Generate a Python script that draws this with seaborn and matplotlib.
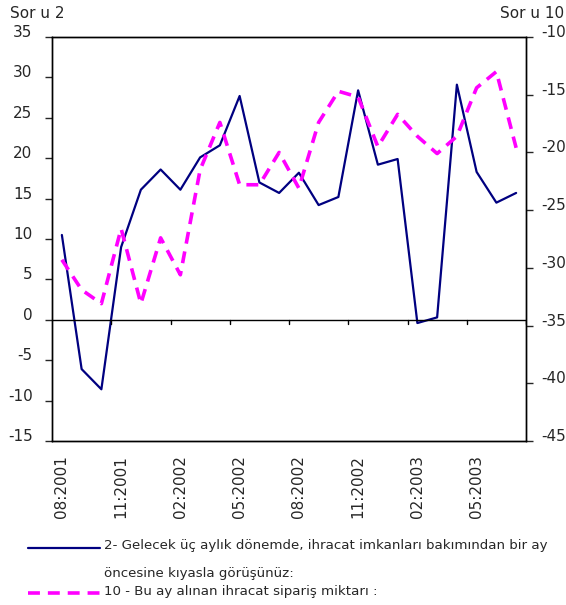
import numpy as np
import pandas as pd
import seaborn as sns
import matplotlib.pyplot as plt
from matplotlib.lines import Line2D

# monthly survey values, 08:2001 .. 07:2003
months = ["08:2001", "09:2001", "10:2001", "11:2001", "12:2001", "01:2002",
          "02:2002", "03:2002", "04:2002", "05:2002", "06:2002", "07:2002",
          "08:2002", "09:2002", "10:2002", "11:2002", "12:2002", "01:2003",
          "02:2003", "03:2003", "04:2003", "05:2003", "06:2003", "07:2003"]
soru2 = [10.5, -6.1, -8.6, 9.0, 16.1, 18.6, 16.1, 20.1, 21.6, 27.7, 17.0, 15.7,
         18.2, 14.2, 15.2, 28.4, 19.2, 19.9, -0.4, 0.3, 29.1, 18.3, 14.5, 15.7]
soru10 = [-29.3, -31.9, -33.1, -26.6, -33.1, -27.4, -30.6, -21.5, -17.4, -22.8, -22.8, -20.0,
          -23.1, -17.4, -14.7, -15.2, -19.5, -16.7, -18.6, -20.1, -18.6, -14.4, -13.0, -19.6]

label2 = "2- Gelecek üç aylık dönemde, ihracat imkanları bakımından bir ay"
label2b = "öncesine kıyasla görüşünüz:"
label10 = "10 - Bu ay alınan ihracat sipariş miktarı :"

sns.set_style("white")
plt.rcParams['font.family'] = ['DejaVu Sans']
plt.rcParams['axes.unicode_minus'] = False

df = pd.DataFrame({"i": np.arange(len(months)), "s2": soru2, "s10": soru10})

dash = (0, (3.3, 2.2))

fig = plt.figure(figsize=(5.66, 6.05), dpi=100)
ax = fig.add_axes([52/566, 1-441/605, 474/566, 404/605])
ax2 = ax.twinx()

sns.lineplot(data=df, x="i", y="s2", ax=ax, color="#000080", linewidth=1.6)
sns.lineplot(data=df, x="i", y="s10", ax=ax2, color="#ff00ff", linewidth=2.6,
             linestyle=dash)

ax.set_xlim(-0.5, len(months) - 0.5)
ax.set_ylim(-15, 35)
ax.set_yticks(np.arange(-15, 36, 5))
ax2.set_ylim(-45, -10)
ax2.set_yticks(np.arange(-45, -9, 5))
ax.set_xlabel("")
ax.set_ylabel("")
ax2.set_ylabel("")

# horizontal axis crosses at 0 on the left scale
ax.axhline(0, color="black", linewidth=1)
for b in np.arange(2.5, len(months), 3):
    ax.plot([b, b], [0, -0.5], color="black", linewidth=1)

ax.set_xticks(np.arange(0, len(months), 3))
ax.set_xticklabels(months[::3], rotation=90, fontsize=11)
ax.tick_params(axis="x", length=0, pad=10)
ax.tick_params(axis="y", length=5, width=1, labelsize=11, left=True, direction="out", pad=9)
ax2.tick_params(axis="y", length=5, width=1, labelsize=11, right=True, direction="out", pad=6)
for lab in ax.get_yticklabels() + ax2.get_yticklabels():
    lab.set_verticalalignment("baseline")

for a in (ax, ax2):
    for s in a.spines.values():
        s.set_color("black")
        s.set_linewidth(1)

fig.text(10/566, 1-14/605, "Sor u 2", fontsize=11, va="center", ha="left")
fig.text(564/566, 1-14/605, "Sor u 10", fontsize=11, va="center", ha="right")

# legend below the chart
fig.add_artist(Line2D([28/566, 100/566], [1-548/605, 1-548/605], color="#000080",
                      linewidth=1.6, transform=fig.transFigure))
fig.add_artist(Line2D([28/566, 100/566], [1-593/605, 1-593/605], color="#ff00ff",
                      linewidth=2.6, linestyle=dash, transform=fig.transFigure))
fig.text(104/566, 1-546/605, label2, fontsize=9.6, va="center", ha="left")
fig.text(104/566, 1-573/605, label2b, fontsize=9.6, va="center", ha="left")
fig.text(104/566, 1-591/605, label10, fontsize=9.6, va="center", ha="left")

fig.savefig("out.png", dpi=100)
